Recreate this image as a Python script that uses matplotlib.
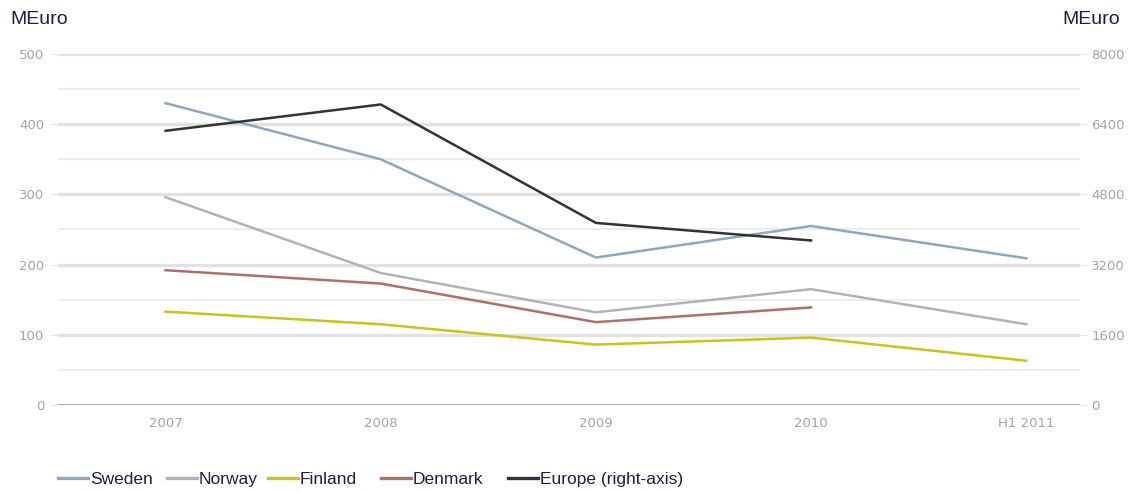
import matplotlib
matplotlib.use("Agg")
import matplotlib.pyplot as plt
from matplotlib.lines import Line2D

# Annual values in MEuro
periods = ["2007", "2008", "2009", "2010", "H1 2011"]
sweden = [430, 350, 210, 255, 209]
norway = [296, 188, 132, 165, 115]
finland = [133, 115, 86, 96, 63]
denmark = [192, 173, 118, 139]
europe = [6250, 6850, 4150, 3750]  # right axis

left_ticks = [0, 100, 200, 300, 400, 500]
right_ticks = [0, 1600, 3200, 4800, 6400, 8000]

series_names = ["Sweden", "Norway", "Finland", "Denmark", "Europe (right-axis)"]
series_colors = ["#8ea7c0", "#b3b3b3", "#c8c41a", "#b0706a", "#333333"]

W, H = 1129, 491
fig = plt.figure(figsize=(W / 100, H / 100), dpi=100)
ax = fig.add_axes([0.0514, 0.1752, 0.9052, 0.7148])
ax2 = ax.twinx()

x = list(range(len(periods)))

# Horizontal grid: stronger lines at labelled values, fainter in between
for v in range(50, 501, 50):
    if v % 100 == 0:
        ax.axhline(v, color="#e2e2e2", lw=2.4, zorder=0)
    else:
        ax.axhline(v, color="#ededed", lw=1.6, zorder=0)
ax.axhline(0, color="#919191", lw=1.8, zorder=1)

lw = 1.8
ax.plot(x, sweden, color=series_colors[0], lw=lw, zorder=3)
ax.plot(x, norway, color=series_colors[1], lw=lw, zorder=3)
ax.plot(x, finland, color=series_colors[2], lw=lw, zorder=3)
ax.plot(x[:len(denmark)], denmark, color=series_colors[3], lw=lw, zorder=3)
ax2.plot(x[:len(europe)], europe, color=series_colors[4], lw=lw, zorder=4)

ax.set_xlim(-0.5, 4.25)
ax.set_ylim(0, 500)
ax2.set_ylim(0, 8000)

ax.set_xticks(x)
ax.set_xticklabels(periods)
ax.set_yticks(left_ticks)
ax2.set_yticks(right_ticks)

tick_color = "#a4a4a4"
ax.tick_params(axis="x", length=0, pad=9, labelsize=9.5, labelcolor=tick_color)
ax.tick_params(axis="y", length=5, width=0.8, color="#e4e4e4", pad=5,
               labelsize=9.5, labelcolor=tick_color)
ax2.tick_params(axis="y", length=5, width=0.8, color="#e4e4e4", pad=3,
                labelsize=9.5, labelcolor=tick_color)

for a in (ax, ax2):
    for s in a.spines.values():
        s.set_visible(False)

# Unit labels
navy = "#1b1f4d"
font = ["Liberation Sans", "DejaVu Sans"]
fig.text(10 / W, 1 - 18 / H, "MEuro", fontsize=14, color=navy,
         ha="left", va="center_baseline", family=font)
fig.text(1120 / W, 1 - 18 / H, "MEuro", fontsize=14, color=navy,
         ha="right", va="center_baseline", family=font)

# Legend row along the bottom
legend_y = 1 - 478 / H
line_starts = [58, 167, 268, 381, 508]
for x0, name, c in zip(line_starts, series_names, series_colors):
    fig.add_artist(Line2D([x0 / W, (x0 + 30) / W], [legend_y, legend_y],
                          color=c, lw=2.4, transform=fig.transFigure))
    fig.text((x0 + 32) / W, legend_y, name, fontsize=12.5, color=navy,
             ha="left", va="center_baseline", family=font)

fig.savefig("out.png", dpi=100)
